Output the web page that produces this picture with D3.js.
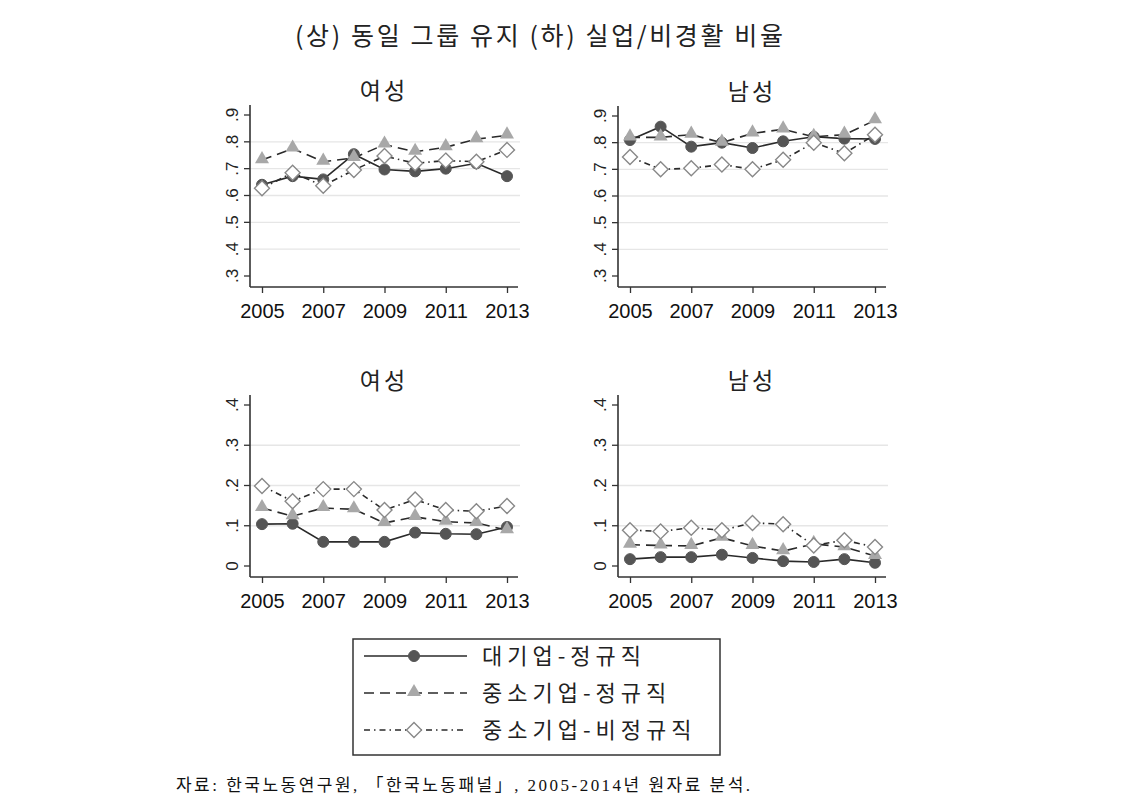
<!DOCTYPE html>
<html>
<head>
<meta charset="utf-8">
<script src="https://cdn.jsdelivr.net/npm/d3@7"></script>
<style>
  body { margin: 0; background: #fff; }
  svg text { font-family: "Noto Sans CJK KR", "Liberation Sans", sans-serif; }
</style>
</head>
<body>
<div id="chart"></div>
<script>
// data
var years = [2005, 2006, 2007, 2008, 2009, 2010, 2011, 2012, 2013];
var seriesNames = ["대기업-정규직", "중소기업-정규직", "중소기업-비정규직"];

// (상) 동일 그룹 유지
var stayFemaleLarge = [0.64, 0.672, 0.66, 0.754, 0.697, 0.69, 0.70, 0.72, 0.672];
var stayFemaleSmall = [0.732, 0.775, 0.726, 0.74, 0.79, 0.763, 0.78, 0.81, 0.824];
var stayFemaleIrreg = [0.627, 0.685, 0.636, 0.695, 0.747, 0.72, 0.73, 0.726, 0.77];
var stayMaleLarge = [0.81, 0.86, 0.785, 0.80, 0.78, 0.805, 0.822, 0.815, 0.814];
var stayMaleSmall = [0.82, 0.82, 0.83, 0.80, 0.835, 0.85, 0.822, 0.83, 0.884];
var stayMaleIrreg = [0.746, 0.70, 0.704, 0.718, 0.70, 0.736, 0.80, 0.76, 0.83];

// (하) 실업/비경활 비율
var outFemaleLarge = [0.104, 0.105, 0.06, 0.06, 0.06, 0.083, 0.08, 0.079, 0.097];
var outFemaleSmall = [0.144, 0.124, 0.144, 0.141, 0.107, 0.122, 0.11, 0.107, 0.089];
var outFemaleIrreg = [0.199, 0.161, 0.191, 0.191, 0.139, 0.165, 0.139, 0.136, 0.149];
var outMaleLarge = [0.017, 0.022, 0.022, 0.028, 0.02, 0.012, 0.01, 0.017, 0.008];
var outMaleSmall = [0.053, 0.051, 0.05, 0.07, 0.05, 0.037, 0.055, 0.047, 0.025];
var outMaleIrreg = [0.089, 0.086, 0.095, 0.089, 0.107, 0.104, 0.051, 0.064, 0.047];

var topTicks = [0.3, 0.4, 0.5, 0.6, 0.7, 0.8, 0.9];
var bottomTicks = [0, 0.1, 0.2, 0.3, 0.4];
var xTicks = [2005, 2007, 2009, 2011, 2013];

var width = 1146, height = 810;
var svg = d3.select("#chart").append("svg")
    .attr("width", width)
    .attr("height", height);

var lineStyles = [
  { stroke: "#2a2a2a", dash: null, marker: "circle" },
  { stroke: "#2a2a2a", dash: "10,6", marker: "triangle" },
  { stroke: "#2a2a2a", dash: "6,4,1.5,4", marker: "diamond" }
];

function drawMarker(g, type, cx, cy) {
  if (type == "circle") {
    g.append("circle").attr("cx", cx).attr("cy", cy).attr("r", 5.5)
      .attr("fill", "#555").attr("stroke", "#555");
  } else if (type == "triangle") {
    g.append("path")
      .attr("d", d3.symbol().type(d3.symbolTriangle).size(85)())
      .attr("transform", "translate(" + cx + "," + (cy - 1) + ")")
      .attr("fill", "#a8a8a8");
  } else {
    g.append("path")
      .attr("d", "M0,-7.5L7.5,0L0,7.5L-7.5,0Z")
      .attr("transform", "translate(" + cx + "," + cy + ")")
      .attr("fill", "#fff").attr("stroke", "#888").attr("stroke-width", 1.4);
  }
}

function panel(opt) {
  var g = svg.append("g");
  var x = d3.scaleLinear().domain([2005, 2013]).range([opt.axisX + 12, opt.axisX + 257]);
  var y = d3.scaleLinear().domain(opt.domain).range([opt.bottomY, opt.topY]);
  var axisY = opt.bottomY + 11;

  // grid on inner ticks
  g.selectAll(".grid").data(opt.ticks.slice(1, -1)).enter().append("line")
    .attr("x1", opt.axisX).attr("x2", opt.axisX + 270)
    .attr("y1", function(d) { return y(d); })
    .attr("y2", function(d) { return y(d); })
    .attr("stroke", "#e6e6e6").attr("stroke-width", 1.3);

  var ya = g.append("g")
    .attr("transform", "translate(" + opt.axisX + ",0)")
    .call(d3.axisLeft(y).tickValues(opt.ticks).tickSize(6).tickSizeOuter(0)
      .tickFormat(function(d) { return d == 0 ? "0" : d3.format(".1f")(d).replace(/^0/, ""); }));
  ya.select(".domain").attr("d", "M0," + (opt.topY - 10) + "V" + axisY);
  ya.selectAll("line").attr("stroke", "#333").attr("stroke-width", 1.3);
  ya.selectAll("text")
    .attr("transform", function(d) { return "rotate(-90," + (-18) + "," + y(d) + ")"; })
    .attr("x", -18).attr("y", y)
    .attr("dy", "0.35em")
    .attr("text-anchor", "middle")
    .attr("font-size", "17px").attr("fill", "#222")
    .style("font-family", "Liberation Sans, sans-serif");
  ya.selectAll(".tick").attr("transform", null);
  ya.selectAll(".tick line").attr("y1", y).attr("y2", y);

  var xa = g.append("g")
    .attr("transform", "translate(0," + axisY + ")")
    .call(d3.axisBottom(x).tickValues(years).tickSize(6).tickSizeOuter(0).tickFormat(""));
  xa.select(".domain").attr("d", "M" + opt.axisX + ",0H" + (opt.axisX + 268));
  xa.selectAll("line").attr("stroke", "#333").attr("stroke-width", 1.3);
  xa.selectAll(".domain").attr("stroke", "#333").attr("stroke-width", 1.6);
  ya.selectAll(".domain").attr("stroke", "#333").attr("stroke-width", 1.6);
  xa.selectAll(".tick").filter(function(d) { return xTicks.indexOf(d) < 0; }).remove();
  xa.selectAll(".tick").append("text")
    .attr("y", 31).attr("text-anchor", "middle")
    .attr("font-size", "20px").attr("fill", "#111")
    .style("font-family", "Liberation Sans, sans-serif")
    .text(function(d) { return d; });

  g.append("text")
    .attr("x", opt.axisX + 134).attr("y", opt.topY - 16)
    .attr("text-anchor", "middle").attr("font-size", "23px").attr("fill", "#222")
    .attr("letter-spacing", "3px")
    .text(opt.title);

  var line = d3.line().x(function(d, i) { return x(years[i]); }).y(function(d) { return y(d); });
  opt.series.forEach(function(vals, k) {
    var st = lineStyles[k];
    g.append("path").datum(vals)
      .attr("d", line).attr("fill", "none")
      .attr("stroke", st.stroke).attr("stroke-width", 1.6)
      .attr("stroke-dasharray", st.dash);
  });
  opt.series.forEach(function(vals, k) {
    vals.forEach(function(v, i) { drawMarker(g, lineStyles[k].marker, x(years[i]), y(v)); });
  });
}

panel({ axisX: 250, topY: 115, bottomY: 276, domain: [0.3, 0.9], ticks: topTicks, title: "여성",
  series: [stayFemaleLarge, stayFemaleSmall, stayFemaleIrreg] });
panel({ axisX: 618, topY: 116, bottomY: 276, domain: [0.3, 0.9], ticks: topTicks, title: "남성",
  series: [stayMaleLarge, stayMaleSmall, stayMaleIrreg] });
panel({ axisX: 250, topY: 405, bottomY: 566, domain: [0, 0.4], ticks: bottomTicks, title: "여성",
  series: [outFemaleLarge, outFemaleSmall, outFemaleIrreg] });
panel({ axisX: 618, topY: 405, bottomY: 566, domain: [0, 0.4], ticks: bottomTicks, title: "남성",
  series: [outMaleLarge, outMaleSmall, outMaleIrreg] });

svg.append("text")
  .attr("x", 295).attr("y", 45)
  .attr("font-size", "25px").attr("fill", "#222")
  .attr("textLength", 488).attr("lengthAdjust", "spacing")
  .text("(상) 동일 그룹 유지 (하) 실업/비경활 비율");

// legend
var legend = svg.append("g").attr("transform", "translate(353,639)");
legend.append("rect").attr("width", 367).attr("height", 116)
  .attr("fill", "#fff").attr("stroke", "#333").attr("stroke-width", 1.5);
seriesNames.forEach(function(name, k) {
  var yy = 17 + k * 37;
  var st = lineStyles[k];
  legend.append("line").attr("x1", 11).attr("x2", 114).attr("y1", yy).attr("y2", yy)
    .attr("stroke", st.stroke).attr("stroke-width", 1.5).attr("stroke-dasharray", st.dash);
  drawMarker(legend, st.marker, 61, yy);
  legend.append("text").attr("x", 129).attr("y", yy).attr("dy", "0.35em")
    .attr("font-size", "22px").attr("fill", "#222")
    .attr("letter-spacing", "5px")
    .text(name);
});

svg.append("text")
  .attr("x", 176).attr("y", 791)
  .attr("font-size", "17px").attr("fill", "#111")
  .attr("textLength", 574).attr("lengthAdjust", "spacing")
  .style("font-family", "Liberation Serif, Noto Sans CJK KR, serif")
  .text("자료: 한국노동연구원, 「한국노동패널」, 2005-2014년 원자료 분석.");
</script>
</body>
</html>
